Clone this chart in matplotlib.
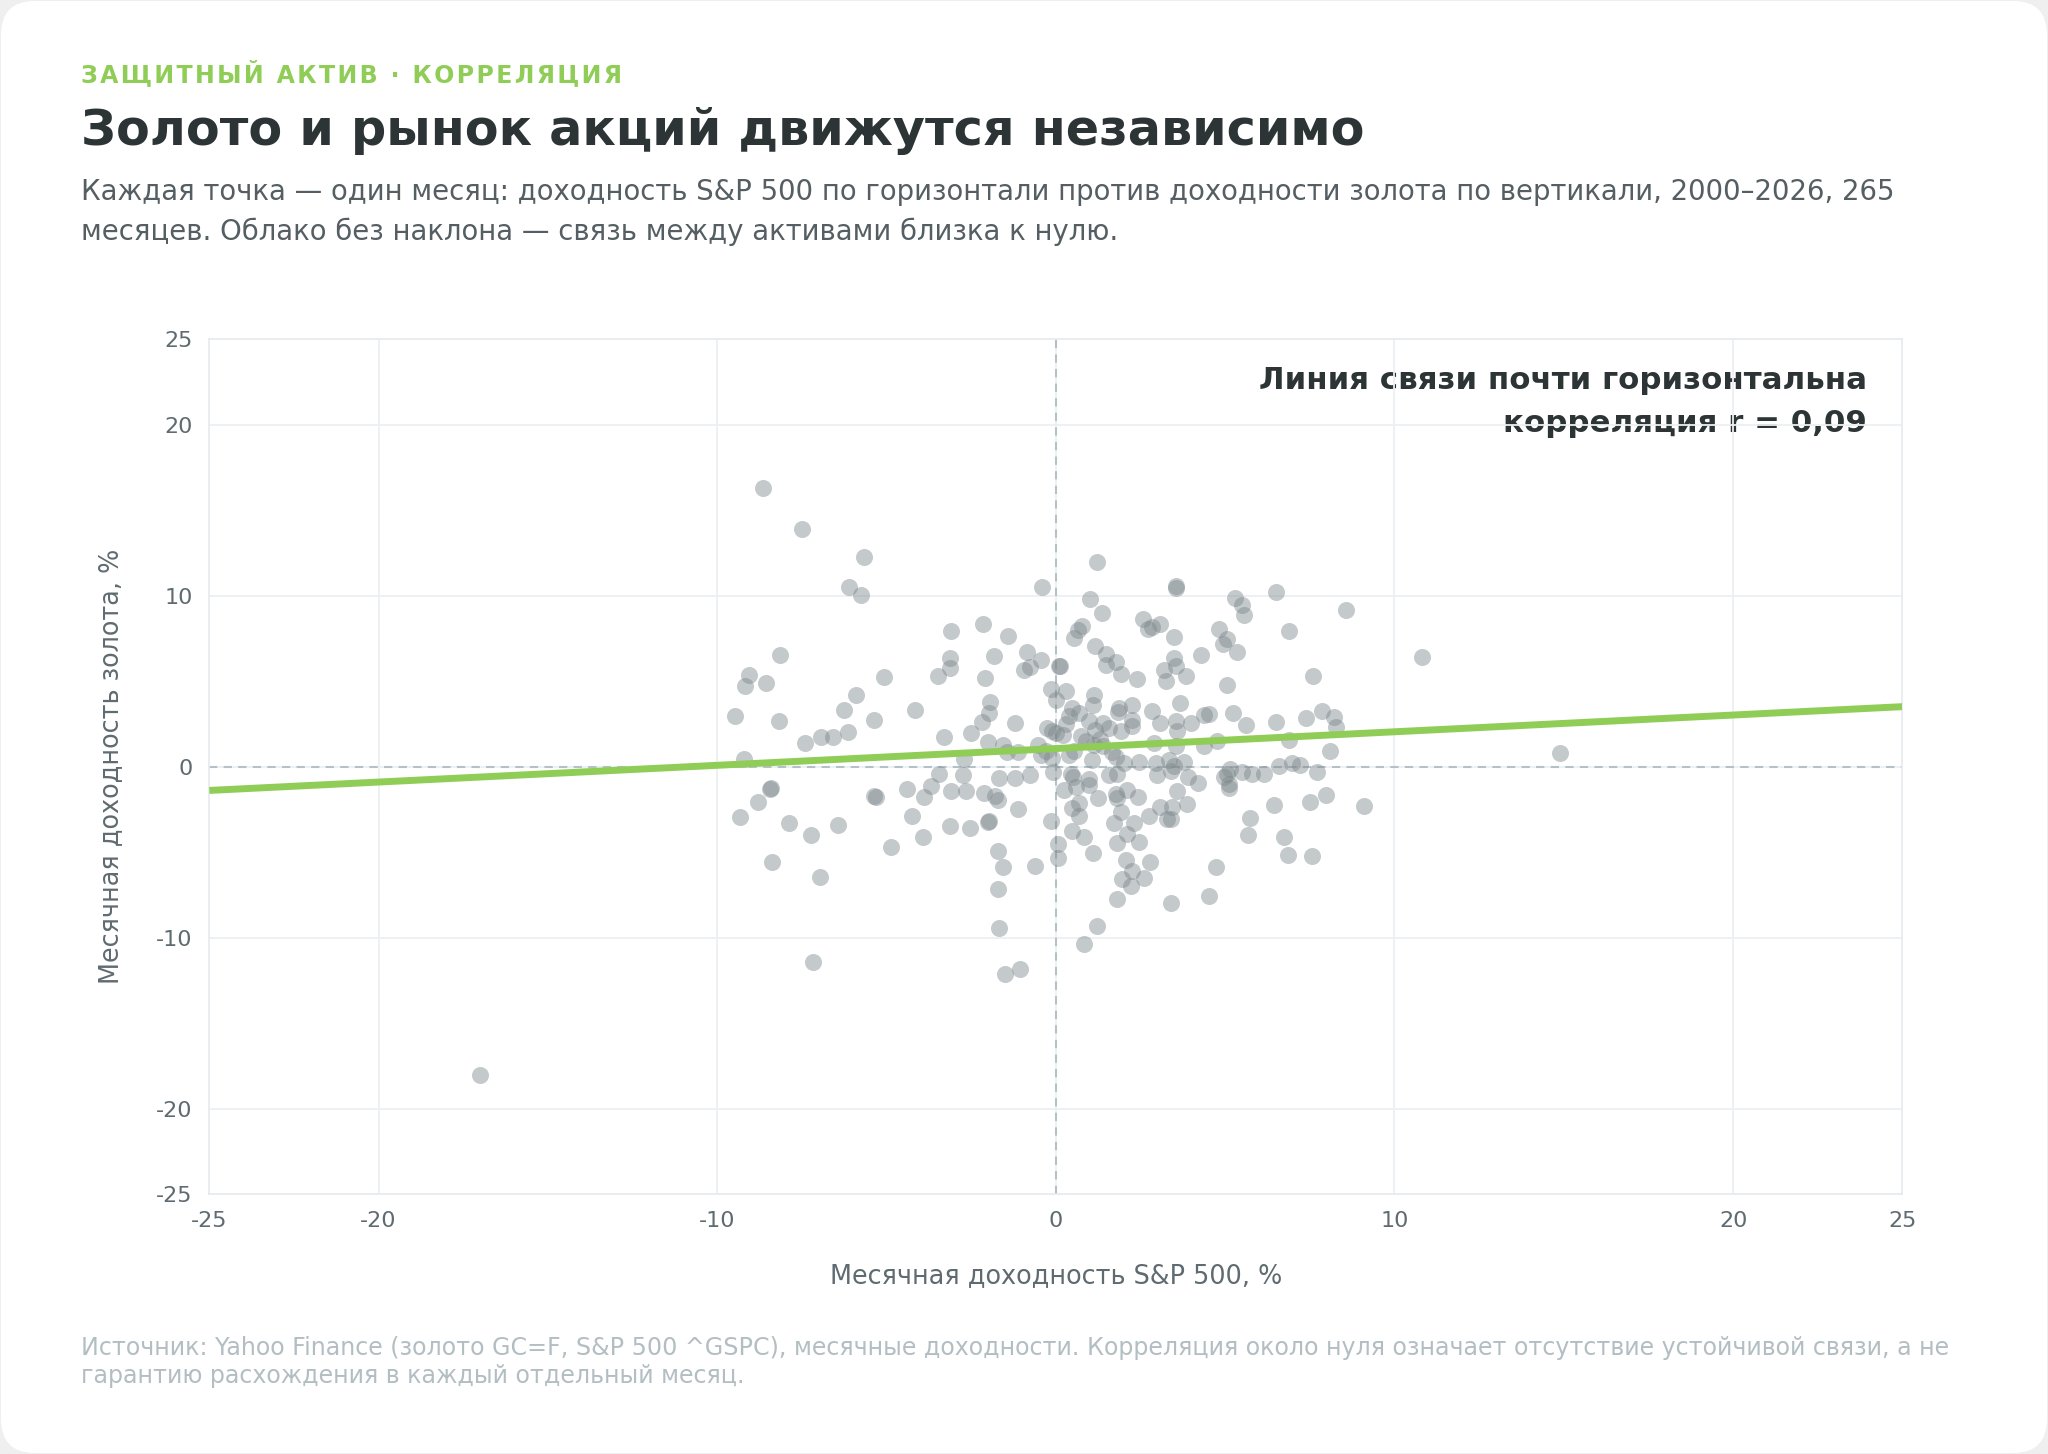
import numpy as np
import matplotlib
matplotlib.use("Agg")
import matplotlib.pyplot as plt
from matplotlib.patches import FancyBboxPatch

plt.rcParams['font.family'] = ['DejaVu Sans']

# monthly returns, %: S&P 500 on x, gold on y
sp500 = [
    -8.65, -7.5, -5.68, -6.12, -5.75, -8.16, -9.07, -9.17, -8.56, -5.07,
    -9.48, -8.19, -5.90, -6.26, -5.38, -7.41, -6.95, -6.57, -6.14, -9.22,
    -8.42, -8.45, -8.79, -9.33, -7.89, -7.24, -6.42, -8.38, -6.96, -7.17,
    -5.31, -5.36, -4.86, -17.0,
    -4.16, -3.49, -3.13, -3.13, -3.11, -2.15, -1.41, -1.82, -2.08, -1.95,
    -1.97, -2.18, -1.21, -3.30, -2.51, -2.01, -1.57, -1.44, -1.13, -2.70,
    -3.44, -2.73, -1.68, -1.21, -4.39, -4.24, -3.9, -3.7, -3.93, -3.09,
    -2.64, -3.14, -2.53, -2.11, -1.8, -1.72, -1.97, -2.0, -1.72, -1.56,
    -1.72, -1.68, -1.50, -1.07, -1.11, -0.75,
    -0.42, -0.86, -0.44, -0.93, -0.76, 0.08, 0.12, -0.13, 0.0, -0.52,
    -0.44, -0.1, 0.0, -0.1, 1.21, 1.00, 1.37, 0.76, 0.64, 0.54,
    1.17, 1.47, 1.47, 0.29, 1.13, 1.11, 0.49, 0.39, 0.69, 0.98,
    1.38, 0.2, 0.74, 0.88, 0.39, 1.13, 1.08, 1.38, 0.44, 0.5,
    0.98, 1.16, 0.54, -0.08, -0.27, -0.13, 0.05, 0.05, -0.61, 0.25,
    0.98, 0.69, 0.49, 0.69, 0.47, 0.83, 1.1, 1.21, 0.83, 1.25,
    3.56, 3.56, 2.58, 2.72, 2.85, 3.09, 3.49, 1.79, 1.92, 2.41,
    3.50, 3.54, 3.19, 3.25, 3.84, 4.29, 3.68, 2.26, 1.87, 1.84,
    2.85, 3.09, 2.26, 2.26, 1.57, 1.92, 3.54, 3.59, 3.98, 4.37,
    4.52, 1.77, 2.46, 2.95, 3.34, 3.54, 3.78, 4.37, 1.57, 1.82,
    1.66, 1.80, 2.21, 1.95, 2.26, 2.6, 2.78, 2.07, 1.8, 2.45,
    2.11, 1.72, 2.31, 1.92, 2.75, 3.09, 3.29, 3.39, 3.44, 3.88,
    3.59, 2.43, 2.11, 1.77, 1.82, 3.41, 4.2, 3.0, 3.9, 3.5, 3.39,
    6.50, 5.28, 5.50, 5.55, 8.57, 6.88, 4.83, 5.06, 4.93, 5.35,
    7.59, 5.06, 5.23, 5.62, 6.51, 7.39, 7.86, 8.2, 8.28, 6.88,
    8.09, 4.76, 6.58, 6.97, 7.22, 7.71, 5.14, 5.5, 5.8, 6.14,
    4.97, 5.06, 9.09, 7.98, 7.5, 6.45, 5.72, 5.67, 6.73, 6.86,
    7.55, 4.74, 4.53, 5.1, 5.1, 10.8, 14.9,
    0.3, 1.3, 2.0, 0.6, -0.3, 2.9,
]
gold = [
    16.3, 13.9, 12.26, 10.49, 10.06, 6.53, 5.38, 4.74, 4.92, 5.27,
    2.97, 2.70, 4.20, 3.32, 2.72, 1.37, 1.74, 1.76, 2.05, 0.46,
    -1.24, -1.32, -2.07, -2.95, -3.30, -4.0, -3.38, -5.54, -6.43, -11.4,
    -1.76, -1.72, -4.66, -18.0,
    3.30, 5.33, 6.38, 5.77, 7.95, 8.36, 7.64, 6.49, 5.17, 3.81,
    3.13, 2.64, 2.56, 1.76, 1.96, 1.47, 1.26, 0.87, 0.87, 0.48,
    -0.40, -0.45, -0.68, -0.68, -1.28, -2.85, -1.79, -1.14, -4.1, -1.43,
    -1.43, -3.48, -3.59, -1.53, -1.7, -1.96, -3.14, -3.2, -4.94, -5.87,
    -7.14, -9.45, -12.14, -11.8, -2.44, -0.45,
    10.49, 6.73, 6.22, 5.69, 5.81, 5.88, 5.92, 4.55, 3.93, 1.26,
    0.71, 2.07, 1.98, 0.5, 12.0, 9.80, 8.97, 8.21, 8.01, 7.56,
    7.06, 6.59, 5.97, 4.41, 4.22, 3.59, 3.43, 2.95, 3.15, 2.66,
    2.56, 1.88, 1.78, 1.49, 0.71, 1.3, 0.42, 1.2, -0.4, -0.6,
    -0.7, 2.14, 0.9, -0.3, 2.3, -3.14, -4.5, -5.33, -5.77, -1.33,
    -1.05, -2.11, -2.4, -2.9, -3.77, -4.1, -5.01, -9.28, -10.35, -1.82,
    10.58, 10.45, 8.62, 8.07, 8.15, 8.36, 7.62, 6.12, 5.44, 5.13,
    6.36, 5.87, 5.69, 5.03, 5.29, 6.55, 3.75, 3.63, 3.43, 3.20,
    3.24, 2.56, 2.76, 2.37, 2.27, 2.07, 2.66, 2.07, 2.56, 3.05,
    3.1, 0.6, 0.31, 0.21, 0.42, 1.2, 0.31, 1.2, -0.5, -0.4,
    0.84, -7.72, -6.98, -6.55, -6.1, -6.5, -5.56, -5.45, -4.45, -4.39,
    -3.9, -3.28, -3.28, -2.66, -2.89, -2.37, -3.03, -3.03, -2.37, -2.15,
    -1.43, -1.76, -1.33, -1.6, -1.8, -7.97, -0.95, -0.45, -0.6, 0.05, -0.26,
    10.25, 9.86, 9.47, 8.89, 9.18, 7.93, 8.07, 7.47, 7.21, 6.71,
    5.33, 4.76, 3.12, 2.46, 2.6, 2.85, 3.24, 2.9, 2.35, 1.59,
    0.95, 1.5, 0.03, 0.21, 0.12, -0.3, -0.1, -0.3, -0.4, -0.4,
    -0.6, -0.4, -2.31, -1.63, -2.05, -2.21, -2.99, -3.96, -4.1, -5.13,
    -5.23, -5.87, -7.56, -1.0, -1.24, 6.4, 0.8,
    2.5, 1.6, 0.2, -1.2, 0.9, 1.4,
]

# regression line as drawn on the chart
trend_slope = 0.098
trend_intercept = 1.07
trend_x = [-25, 25]

ticks = [-25, -20, -10, 0, 10, 20, 25]
grid_at = [-20, -10, 0, 10, 20]

kicker = "ЗАЩИТНЫЙ АКТИВ · КОРРЕЛЯЦИЯ"
title = "Золото и рынок акций движутся независимо"
subtitle = [
    "Каждая точка — один месяц: доходность S&P 500 по горизонтали против доходности золота по вертикали, 2000–2026, 265",
    "месяцев. Облако без наклона — связь между активами близка к нулю.",
]
note = ["Линия связи почти горизонтальна", "корреляция r = 0,09"]
footer = [
    "Источник: Yahoo Finance (золото GC=F, S&P 500 ^GSPC), месячные доходности. Корреляция около нуля означает отсутствие устойчивой связи, а не",
    "гарантию расхождения в каждый отдельный месяц.",
]

GREEN = "#8fcd57"
DARK = "#2d3436"
MUTED = "#5f6b70"
GRID = "#edf0f2"

fig = plt.figure(figsize=(20.48, 14.54), dpi=100, facecolor="#efefef")
card = FancyBboxPatch((1, 1), 2046, 1452, boxstyle="round,pad=0,rounding_size=34",
                      transform=None, facecolor="white", edgecolor="none", zorder=-5)
fig.patches.append(card)

ax = fig.add_axes([0.1022, 0.1786, 0.8267, 0.588])
ax.set_facecolor("white")
ax.set_xlim(-25, 25)
ax.set_ylim(-25, 25)

# light grid (drawn by hand so the edges stay as the frame)
for g in grid_at:
    ax.axvline(g, color=GRID, lw=1.3, zorder=0.5)
    ax.axhline(g, color=GRID, lw=1.3, zorder=0.5)
ax.axvline(0, color="#b4c2c8", lw=1.5, ls=(0, (4, 3)), zorder=0.6)
ax.axhline(0, color="#b4c2c8", lw=1.5, ls=(0, (4, 3)), zorder=0.6)

ax.scatter(sp500, gold, s=150, color="#7d888c", alpha=0.45, linewidths=0, zorder=2)

tx = np.array(trend_x)
ax.plot(tx, trend_intercept + trend_slope * tx, color=GREEN, lw=5, solid_capstyle="butt", zorder=3)

# annotation sits under the grid, as in the original
ax.text(0.979, 0.952, note[0], transform=ax.transAxes, ha="right", va="center",
        fontsize=22.2, fontweight="bold", color=DARK, zorder=0.1)
ax.text(0.979, 0.902, note[1], transform=ax.transAxes, ha="right", va="center",
        fontsize=22.2, fontweight="bold", color=DARK, zorder=0.1)

ax.set_xticks(ticks)
ax.set_yticks(ticks)
ax.set_xticklabels([str(t) for t in ticks])
ax.set_yticklabels([str(t) for t in ticks])
ax.tick_params(length=0, labelsize=16, labelcolor=MUTED, pad=12)
for s in ax.spines.values():
    s.set_color("#e6eaec")
    s.set_linewidth(1.2)

ax.set_xlabel("Месячная доходность S&P 500, %", fontsize=18.4, color=MUTED, labelpad=23)
ax.set_ylabel("Месячная доходность золота, %", fontsize=18.4, color=MUTED, labelpad=23)

X0 = 81 / 2048
fig.text(X0, 1 - 74 / 1454, "\u200a".join(kicker), fontsize=17, fontweight="bold",
         color=GREEN, va="center")
fig.text(X0, 1 - 131 / 1454, title, fontsize=35.5, fontweight="bold", color=DARK, va="center")
fig.text(X0, 1 - 192 / 1454, subtitle[0], fontsize=19.8, color="#555f63", va="center")
fig.text(X0, 1 - 232 / 1454, subtitle[1], fontsize=19.8, color="#555f63", va="center")
fig.text(X0, 1 - 1348 / 1454, footer[0], fontsize=17.1, color="#b3bec3", va="center")
fig.text(X0, 1 - 1376 / 1454, footer[1], fontsize=17.1, color="#b3bec3", va="center")

fig.savefig("out.png", dpi=100, facecolor=fig.get_facecolor())
